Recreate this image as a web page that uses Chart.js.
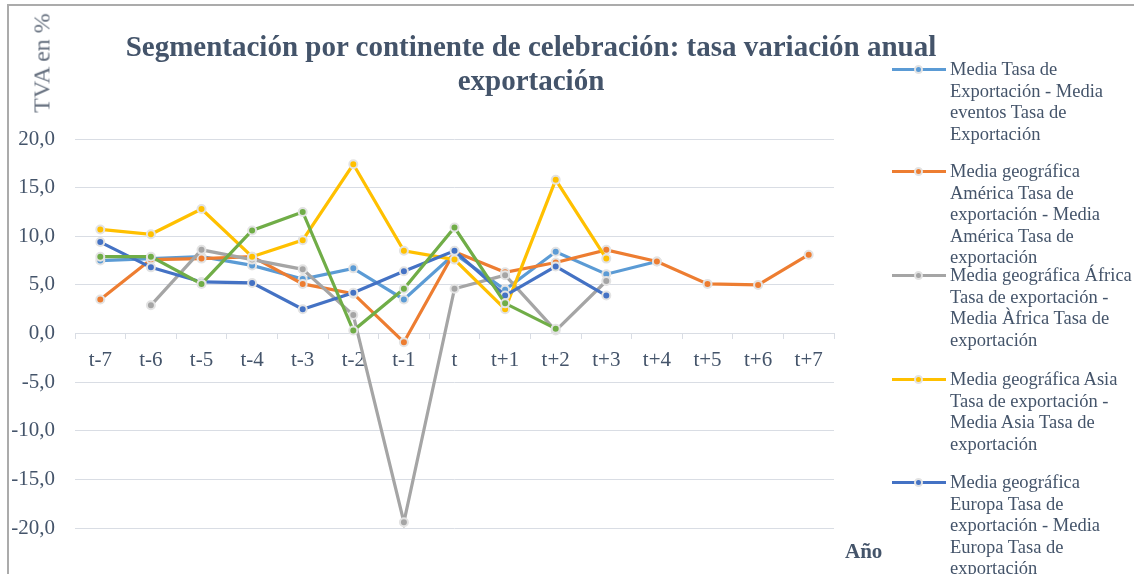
<!DOCTYPE html>
<html lang="es">
<head>
<meta charset="utf-8">
<title>Segmentación por continente de celebración</title>
<script src="https://cdn.jsdelivr.net/npm/chart.js@4.4.1/dist/chart.umd.min.js"></script>
<style>
    body {
        margin: 0;
        width: 1134px;
        height: 574px;
        overflow: hidden;
        background: #ffffff;
        position: relative;
        font-family: "Liberation Serif", "Times New Roman", serif;
        color: #44546a;
    }
    .frame {
        position: absolute;
        left: 7px;
        top: 4px;
        width: 1140px;
        height: 580px;
        border-left: 2px solid #ababab;
        border-top: 2px solid #ababab;
    }
    #myChart {
        position: absolute;
        left: 0;
        top: 0;
    }
    .title {
        position: absolute;
        left: 81px;
        top: 29px;
        width: 900px;
        text-align: center;
        font-weight: bold;
        font-size: 29px;
        line-height: 34px;
        white-space: nowrap;
    }
    .yTitle {
        position: absolute;
        left: 42px;
        top: 63px;
        transform: translate(-50%, -50%) rotate(-90deg);
        font-size: 24px;
        white-space: nowrap;
        color: #66707f;
    }
    .xTitle {
        position: absolute;
        left: 845px;
        top: 539px;
        font-size: 21px;
        font-weight: bold;
    }
    .legendItem {
        position: absolute;
        left: 892px;
        width: 250px;
        font-size: 18.5px;
        line-height: 21.5px;
        white-space: nowrap;
        color: #44546a;
    }
    .legendItem .mark {
        position: absolute;
        left: 0;
        top: 9px;
        width: 54px;
        height: 3px;
    }
    .legendItem .dot {
        position: absolute;
        left: 22px;
        top: -3px;
        width: 5px;
        height: 5px;
        border-radius: 50%;
        border: 2px solid #e3e3e3;
    }
    .legendItem .text {
        position: absolute;
        left: 58px;
        top: 0;
    }
</style>
</head>
<body>
<div class="frame"></div>
<canvas id="myChart" width="1134" height="574"></canvas>
<div class="title">Segmentación por continente de celebración: tasa variación anual<br>exportación</div>
<div class="yTitle">TVA en %</div>
<div class="xTitle">Año</div>
<div id="legend"></div>

<script>
const periods = ['t-7', 't-6', 't-5', 't-4', 't-3', 't-2', 't-1', 't', 't+1', 't+2', 't+3', 't+4', 't+5', 't+6', 't+7'];
const yTicks = [-20, -15, -10, -5, 0, 5, 10, 15, 20];

const mediaTotal = [7.5, 7.7, 7.9, 7.0, 5.6, 6.7, 3.5, 8.2, 4.5, 8.4, 6.1, 7.4, null, null, null];
const mediaAmerica = [3.5, 7.6, 7.7, 7.9, 5.1, 4.1, -0.9, 8.4, 6.3, 7.3, 8.6, 7.4, 5.1, 5.0, 8.1];
const mediaAfrica = [null, 2.9, 8.6, 7.6, 6.6, 1.9, -19.4, 4.6, 6.0, 0.3, 5.4, null, null, null, null];
const mediaAsia = [10.7, 10.2, 12.8, 7.9, 9.6, 17.4, 8.5, 7.6, 2.5, 15.8, 7.7, null, null, null, null];
const mediaEuropa = [9.4, 6.8, 5.3, 5.2, 2.5, 4.2, 6.4, 8.5, 3.9, 6.9, 3.9, null, null, null, null];
const mediaOceania = [7.9, 7.9, 5.1, 10.6, 12.5, 0.3, 4.6, 10.9, 3.1, 0.5, null, null, null, null, null];

const seriesNames = [
    ['Media Tasa de', 'Exportación - Media', 'eventos Tasa de', 'Exportación'],
    ['Media geográfica', 'América Tasa de', 'exportación - Media', 'América Tasa de', 'exportación'],
    ['Media geográfica África', 'Tasa de exportación -', 'Media Àfrica Tasa de', 'exportación'],
    ['Media geográfica Asia', 'Tasa de exportación -', 'Media Asia Tasa de', 'exportación'],
    ['Media geográfica', 'Europa Tasa de', 'exportación - Media', 'Europa Tasa de', 'exportación'],
    ['Media geográfica Oceanía', 'Tasa de exportación -', 'Media Oceanía Tasa de', 'exportación']
];
const seriesValues = [mediaTotal, mediaAmerica, mediaAfrica, mediaAsia, mediaEuropa, mediaOceania];
const seriesColors = ['#5b9bd5', '#ed7d31', '#a5a5a5', '#ffc000', '#4472c4', '#70ad47'];

const fontFamily = '"Liberation Serif", "Times New Roman", serif';
const textColor = '#44546a';
const gridColor = '#d9dde4';

const formatTick = (value) => value.toFixed(1).replace('.', ',');

const datasets = seriesValues.map((values, i) => {
    return {
        label: seriesNames[i].join(' '),
        data: values,
        borderColor: seriesColors[i],
        backgroundColor: seriesColors[i],
        borderWidth: 3.2,
        pointRadius: 4,
        pointBorderWidth: 2,
        pointBorderColor: '#e3e3e3',
        pointBackgroundColor: seriesColors[i],
        tension: 0,
        spanGaps: false,
        // later series drawn on top, like the original
        order: seriesValues.length - i
    }
});

const ctx = document.getElementById('myChart');

const myChart = new Chart(ctx, {
    type: 'line',
    data: {
        labels: periods,
        datasets: datasets
    },
    options: {
        responsive: false,
        animation: false,
        layout: {
            padding: { top: 139, bottom: 46, left: 0, right: 300 }
        },
        scales: {
            x: {
                type: 'category',
                position: { y: 0 },
                offset: true,
                grid: {
                    offset: true,
                    drawOnChartArea: false,
                    drawTicks: true,
                    tickLength: 5,
                    color: gridColor
                },
                border: {
                    display: true,
                    color: gridColor,
                    width: 1
                },
                ticks: {
                    color: textColor,
                    padding: 9,
                    maxRotation: 0,
                    autoSkip: false,
                    font: { family: fontFamily, size: 21 }
                }
            },
            y: {
                min: -20,
                max: 20,
                afterBuildTicks: (scale) => {
                    scale.ticks = yTicks.map(v => ({ value: v }));
                },
                afterFit: (scale) => {
                    scale.width = 75;
                },
                grid: {
                    drawTicks: false,
                    color: gridColor,
                    lineWidth: 1
                },
                border: {
                    display: false
                },
                ticks: {
                    color: textColor,
                    padding: 20,
                    callback: (value) => formatTick(value),
                    font: { family: fontFamily, size: 21 }
                }
            }
        },
        plugins: {
            legend: { display: false },
            title: { display: false },
            tooltip: { enabled: false }
        }
    }
});

const paintLegend = () => {
    const legendTops = [59, 161, 265, 369, 472];
    let html = '';
    legendTops.forEach((top, i) => {
        html += `
            <div class="legendItem" style="top:${top}px">
                <div class="mark" style="background:${seriesColors[i]}">
                    <div class="dot" style="background:${seriesColors[i]}"></div>
                </div>
                <div class="text">${seriesNames[i].join('<br>')}</div>
            </div>`;
    });
    document.querySelector('#legend').innerHTML = html;
}

paintLegend();
</script>
</body>
</html>
